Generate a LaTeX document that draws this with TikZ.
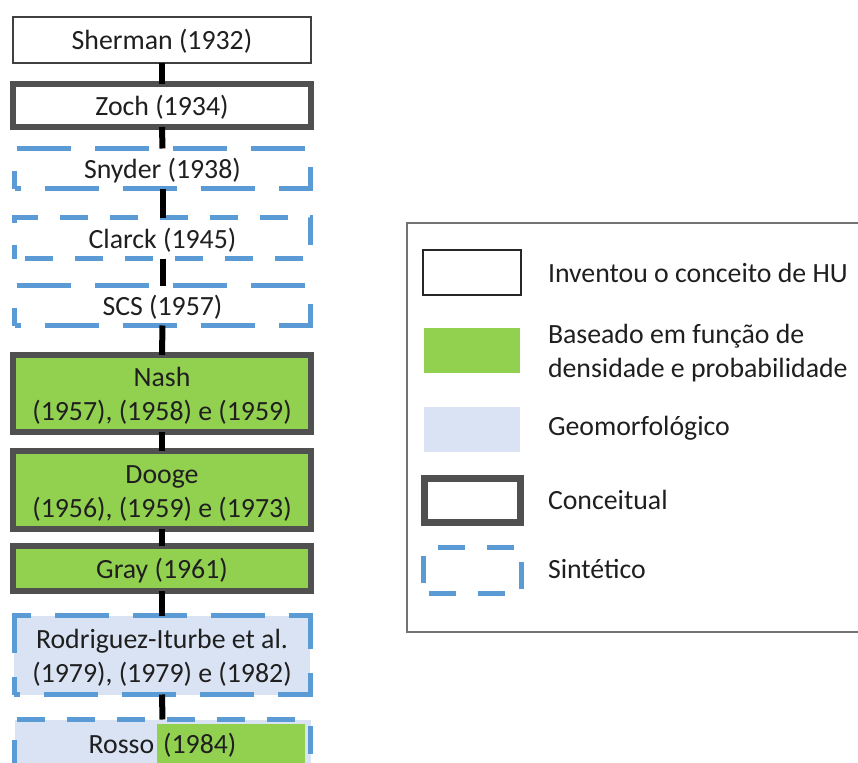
\documentclass[tikz,border=0pt]{standalone}
\usepackage{fontspec}
\setmainfont{Carlito}
\usetikzlibrary{calc}
\definecolor{hugreen}{HTML}{92D050}
\definecolor{hublue}{HTML}{DAE3F3}
\definecolor{hudash}{HTML}{5B9BD5}
\definecolor{hugray}{HTML}{505050}
\definecolor{hutext}{HTML}{1F1F1F}
\tikzset{
  every node/.style={font=\fontsize{27.8}{34}\selectfont, text=hutext, inner sep=0pt, outer sep=0pt, align=center, text height=20pt, text depth=0pt},
  twoline/.style={text height=54pt, text depth=0pt},
  thinbox/.style={draw=black!75, line width=1.3pt, fill=white, minimum width=298pt, minimum height=#1},
  conceptbox/.style={draw=hugray, line width=6pt, minimum width=298pt, minimum height=#1},
  longdash/.style={draw=hudash, line width=5pt, dash pattern=on 54pt off 24pt, dash phase=-30pt, minimum width=296pt, minimum height=#1},
  shortdash/.style={draw=hudash, line width=5pt, dash pattern=on 28pt off 22pt, dash phase=-10pt, minimum width=296pt, minimum height=#1},
  conn/.style={draw=black, line width=6pt},
  legtext/.style={anchor=west, align=left},
}
\begin{document}
\begin{tikzpicture}[x=1pt,y=-1pt]
\clip (0,0) rectangle (858,762);
\fill[white] (0,0) rectangle (858,762);
% chain
\node[thinbox=46pt] (sherman) at (162,40) {Sherman (1932)};
\node[conceptbox=43pt, fill=white] (zoch) at (162,105.5) {Zoch (1934)};
\node[longdash=40pt, fill=white] (snyder) at (162.5,168.5) {Snyder (1938)};
\node[shortdash=41pt, fill=white] (clarck) at (162.5,238) {Clarck (1945)};
\node[longdash=40pt, fill=white] (scs) at (162.5,305.5) {SCS (1957)};
\node[conceptbox=77pt, fill=hugreen, twoline] (nash) at (162,393.5) {Nash\\(1957), (1958) e (1959)};
\node[conceptbox=78pt, fill=hugreen, twoline] (dooge) at (162,490) {Dooge\\(1956), (1959) e (1973)};
\node[conceptbox=45pt, fill=hugreen] (gray) at (162,568.5) {Gray (1961)};
\node[longdash=79pt, fill=hublue, twoline] (rodriguez) at (162,655) {Rodriguez-Iturbe et al.\\(1979), (1979) e (1982)};
\node[shortdash=48pt, fill=hublue,
  path picture={\fill[hugreen] ($(path picture bounding box.north west)+(142.5,4.5)$) rectangle ($(path picture bounding box.south east)+(-5.5,0)$);}] (rosso) at (162.5,743.5) {Rosso\hspace{9pt}(1984)};
% connectors
\draw[conn] (sherman.south) -- (zoch.north);
\draw[conn] (zoch.south) -- (snyder.north);
\draw[conn] (snyder.south) -- (clarck.north);
\draw[conn] (clarck.south) -- (scs.north);
\draw[conn] (scs.south) -- (nash.north);
\draw[conn] (nash.south) -- (dooge.north);
\draw[conn] (dooge.south) -- (gray.north);
\draw[conn] (gray.south) -- (rodriguez.north);
\draw[conn] (rodriguez.south) -- (rosso.north);
% legend
\node[draw=black!55, line width=1.5pt, minimum width=480pt, minimum height=409pt, anchor=north west, text height=, text depth=] (legend) at (407,223) {};
\node[draw=black!85, line width=1.3pt, minimum width=98pt, minimum height=45pt] (lk1) at (472,272.5) {};
\node[fill=hugreen, minimum width=96pt, minimum height=45pt] (lk2) at (472,350.5) {};
\node[fill=hublue, minimum width=96pt, minimum height=45pt] (lk3) at (472,429.5) {};
\node[draw=hugray, line width=7pt, minimum width=96pt, minimum height=44pt] (lk4) at (472.5,500.5) {};
\node[draw=hudash, line width=5pt, dash pattern=on 27pt off 22pt, dash phase=-5pt, minimum width=98pt, minimum height=46pt] (lk5) at (472.5,570.5) {};
\node[legtext] (lt1) at (548,272) {Inventou o conceito de HU};
\node[legtext, twoline] (lt2) at (548,350) {Baseado em função de\\densidade e probabilidade};
\node[legtext] (lt3) at (548,425) {Geomorfológico};
\node[legtext] (lt4) at (548,499) {Conceitual};
\node[legtext] (lt5) at (548,568.3) {Sintético};
\end{tikzpicture}
\end{document}
